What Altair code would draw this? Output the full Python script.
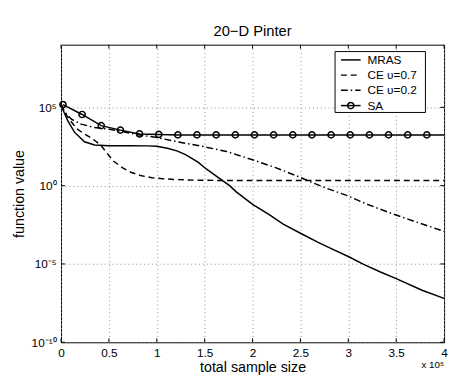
import altair as alt
import pandas as pd

FONT = "Liberation Sans"

series_names = ["MRAS", "CE υ=0.7", "CE υ=0.2", "SA"]

# x in units of 1e5 samples, y = function value
mras_x = [0, 0.02, 0.07, 0.14, 0.245, 0.35, 0.5, 0.7, 0.9, 1.0, 1.11, 1.21, 1.3, 1.43, 1.52, 1.6,
          1.69, 1.76, 1.83, 2.0, 2.17, 2.32, 2.51, 2.68, 2.85, 3.0, 3.16, 3.33, 3.5, 3.77, 4.0]
mras_y = [1.55e5, 7.1e4, 1.4e4, 2.6e3, 630, 390, 355, 355, 347, 330, 245, 166, 95, 32, 11.2, 5.0,
          2.0, 1.0, 0.4, 0.063, 0.0148, 3.5e-3, 8.5e-4, 2.5e-4, 7.9e-5, 3.0e-5, 9.5e-6, 3.2e-6,
          1.15e-6, 2.1e-7, 6.3e-8]

ce07_x = [0, 0.03, 0.08, 0.16, 0.22, 0.3, 0.36, 0.415, 0.47, 0.55, 0.64, 0.73, 0.83, 0.95, 1.06,
          1.2, 1.4, 1.7, 2.0, 3.0, 4.0]
ce07_y = [1.55e5, 5.6e4, 2.0e4, 4.5e3, 2.5e3, 1.26e3, 710, 390, 141, 36, 14.1, 7.1, 4.4, 3.2, 2.8,
          2.45, 2.24, 2.14, 2.14, 2.14, 2.14]

ce02_x = [0, 0.04, 0.108, 0.21, 0.347, 0.48, 0.62, 0.79, 1.0, 1.22, 1.49, 1.73, 2.0, 2.24, 2.47,
          2.61, 2.78, 2.99, 3.19, 3.43, 3.67, 4.0]
ce02_y = [1.55e5, 5.0e4, 1.74e4, 8.5e3, 5.2e3, 4.2e3, 3.0e3, 1.86e3, 1.17e3, 630, 310, 151, 45,
          14.1, 4.0, 1.7, 0.65, 0.23, 0.068, 0.0186, 5.8e-3, 1.2e-3]

sa_x = [0.02, 0.22, 0.42, 0.62, 0.82, 1.02, 1.22, 1.42, 1.62, 1.82, 2.02, 2.22, 2.42, 2.62, 2.82,
        3.02, 3.22, 3.42, 3.62, 3.82, 4.0]
sa_y = [1.5e5, 3.5e4, 6.8e3, 3.5e3, 2.0e3, 1.86e3, 1.74e3, 1.74e3, 1.74e3, 1.74e3, 1.74e3, 1.74e3,
        1.74e3, 1.74e3, 1.74e3, 1.74e3, 1.74e3, 1.74e3, 1.74e3, 1.74e3, 1.74e3]
sa_marker = [True] * 20 + [False]

x_ticks = [0, 0.5, 1, 1.5, 2, 2.5, 3, 3.5, 4]
y_ticks = [1e-10, 1e-5, 1, 1e5]
y_tick_labels = ["10⁻¹⁰", "10⁻⁵", "10⁰", "10⁵"]

rows = []
for name, xs_, ys_ in [("MRAS", mras_x, mras_y), ("CE υ=0.7", ce07_x, ce07_y),
                       ("CE υ=0.2", ce02_x, ce02_y)]:
    for a, b in zip(xs_, ys_):
        rows.append({"series": name, "x": a, "y": b, "marker": False})
for a, b, m in zip(sa_x, sa_y, sa_marker):
    rows.append({"series": "SA", "x": a, "y": b, "marker": m})
df = pd.DataFrame(rows)

W, H = 390, 303
xscale = alt.Scale(domain=[0, 4], nice=False, zero=False)
yscale = alt.Scale(type="log", domain=[1e-10, 1e9], nice=False)

label_expr = " : ".join(
    f"datum.value < {v * 3} ? '{l}'" for v, l in zip(y_ticks[:-1], y_tick_labels[:-1])
) + f" : '{y_tick_labels[-1]}'"

X = alt.X("x:Q", scale=xscale,
          axis=alt.Axis(values=x_ticks, format="~g", title="total sample size", grid=True,
                        tickSize=0, labelPadding=5, labelFlush=False,
                        titleBaseline="alphabetic", titleY=29.5))
Y = alt.Y("y:Q", scale=yscale,
          axis=alt.Axis(values=y_ticks, title="function value", grid=True, tickSize=0,
                        labelPadding=5, titlePadding=5, labelExpr=label_expr))

base = alt.Chart(df)
dashes = {"MRAS": None, "CE υ=0.7": [6, 4], "CE υ=0.2": [7, 3, 1.5, 3], "SA": None}
LW = 1.5

layers = []
for name in series_names:
    kw = dict(color="black", strokeWidth=LW)
    if dashes[name]:
        kw["strokeDash"] = dashes[name]
    layers.append(base.transform_filter(alt.datum.series == name).mark_line(**kw).encode(x=X, y=Y))

layers.append(
    base.transform_filter("datum.series == 'SA' && datum.marker")
    .mark_point(shape="circle", size=40, filled=False, color="black", strokeWidth=LW, opacity=1)
    .encode(x=X, y=Y)
)

# inward tick marks on all four sides (same field names / axis definitions as the data)
xt = alt.Chart(pd.DataFrame({"x": x_ticks}))
yt = alt.Chart(pd.DataFrame({"y": y_ticks}))
layers += [
    xt.mark_rule(color="black").encode(x=X, y=alt.value(H), y2=alt.value(H - 4)),
    xt.mark_rule(color="black").encode(x=X, y=alt.value(0), y2=alt.value(4)),
    yt.mark_rule(color="black").encode(y=Y, x=alt.value(0), x2=alt.value(4)),
    yt.mark_rule(color="black").encode(y=Y, x=alt.value(W), x2=alt.value(W - 4)),
]

# legend box
one = alt.Chart(pd.DataFrame({"a": [0]}))
lx0, lx1, ly0, ly1 = 279, 371, 7, 69
layers.append(one.mark_rect(fill="white", stroke="black", strokeWidth=1).encode(
    x=alt.value(lx0), x2=alt.value(lx1), y=alt.value(ly0), y2=alt.value(ly1)))
row_y = [15.5, 31, 46.5, 62]
for name, ry in zip(series_names, row_y):
    kw = dict(color="black", strokeWidth=LW)
    if dashes[name]:
        kw["strokeDash"] = dashes[name]
    layers.append(one.mark_rule(**kw).encode(x=alt.value(285), x2=alt.value(305), y=alt.value(ry)))
    layers.append(one.mark_text(align="left", baseline="middle", font=FONT, fontSize=12,
                                color="black").encode(
        x=alt.value(312), y=alt.value(ry), text=alt.value(name)))
layers.append(one.mark_point(shape="circle", size=40, filled=False, color="black",
                             strokeWidth=LW, opacity=1).encode(
    x=alt.value(295), y=alt.value(row_y[3])))

# x 10^5 multiplier
layers.append(one.mark_text(align="right", baseline="middle", font=FONT, fontSize=10,
                            color="black").encode(
    x=alt.value(W), y=alt.value(H + 23), text=alt.value("x 10⁵")))

chart = alt.layer(*layers).properties(
    width=W, height=H,
    title=alt.TitleParams("20−D Pinter", font=FONT, fontSize=15, fontWeight="normal",
                          color="black", offset=5.5),
    autosize=alt.AutoSizeParams(type="none"),
    padding={"left": 54, "top": 34, "right": 4, "bottom": 32},
).configure_axis(
    labelFont=FONT, titleFont=FONT, labelFontSize=12, titleFontSize=14.5,
    labelColor="black", titleColor="black", titleFontWeight="normal",
    gridColor="#909090", gridDash=[1, 3], gridWidth=1, domain=False,
).configure_view(stroke="black", strokeWidth=1)

chart.save("out.html", embed_options={"renderer": "svg", "actions": False})
